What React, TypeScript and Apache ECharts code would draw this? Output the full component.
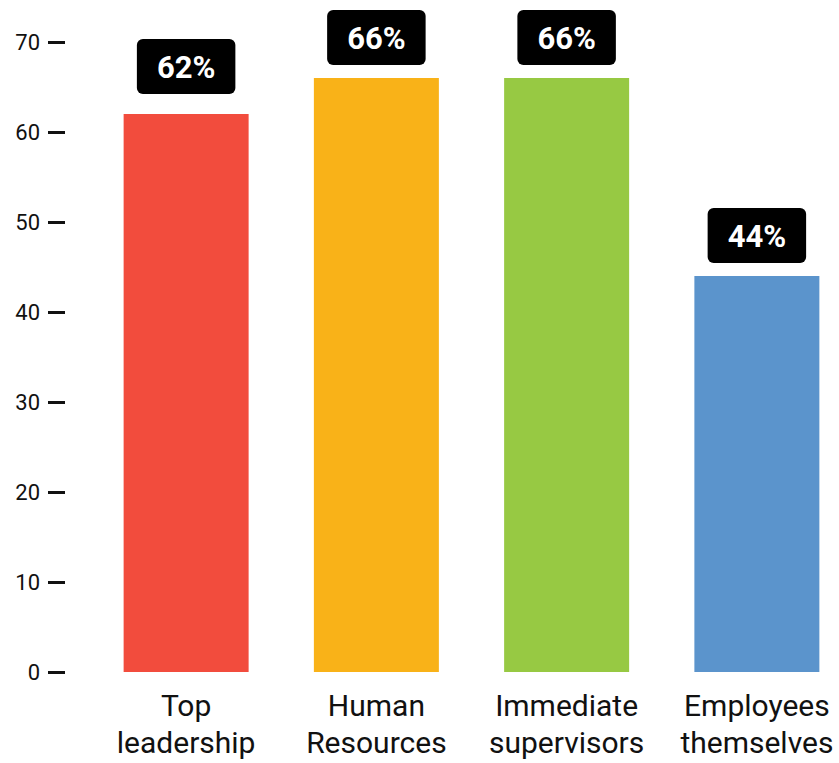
import React, { useEffect, useRef } from "react";
import * as echarts from "echarts";

const categories = ["Top\nleadership", "Human\nResources", "Immediate\nsupervisors", "Employees\nthemselves"];
const values = [62, 66, 66, 44];
const colors = ["#F24C3D", "#F9B218", "#97C943", "#5B94CC"];
const labelGaps = [20, 13, 13, 13];
const yTicks = { min: 0, max: 70, interval: 10 };

export default function App() {
  const ref = useRef<HTMLDivElement>(null);
  useEffect(() => {
    document.body.style.margin = "0";
    const chart = echarts.init(ref.current!, null, { renderer: "svg" });
    chart.setOption({
      animation: false,
      grid: { left: 91, top: 42, width: 761, bottom: 91, containLabel: false, outerBoundsMode: "none" },
      xAxis: {
        type: "category",
        data: categories,
        axisLine: { show: false },
        axisTick: { show: false },
        axisLabel: {
          color: "#111",
          fontFamily: "Roboto",
          fontSize: 30,
          lineHeight: 37,
          margin: 15,
          interval: 0,
        },
      },
      yAxis: {
        type: "value",
        min: yTicks.min,
        max: yTicks.max,
        interval: yTicks.interval,
        offset: 26,
        splitLine: { show: false },
        axisLine: { show: false },
        axisTick: { show: true, length: 17, lineStyle: { color: "#111", width: 3 } },
        axisLabel: { color: "#111", fontFamily: "Roboto", fontSize: 22, margin: 25 },
      },
      series: [
        {
          type: "bar",
          barWidth: 125,
          data: values.map((v, i) => ({
            value: v,
            itemStyle: { color: colors[i] },
            label: { distance: labelGaps[i] },
          })),
          label: {
            show: true,
            position: "top",
            distance: 13,
            formatter: "{c}%",
            color: "#fff",
            fontFamily: "Roboto",
            fontWeight: "bold",
            fontSize: 31,
            lineHeight: 31,
            backgroundColor: "#000",
            borderRadius: 6,
            padding: [13, 20, 11, 20],
          },
        },
      ],
    });
    return () => chart.dispose();
  }, []);
  return <div ref={ref} style={{ width: 839, height: 763 }} />;
}
